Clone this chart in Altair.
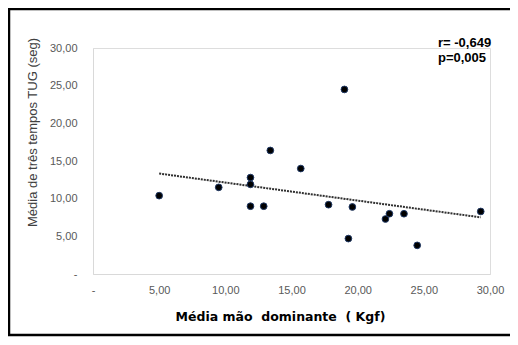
import altair as alt
import pandas as pd

# Data
forca = [5.0, 9.5, 11.9, 11.9, 11.9, 12.9, 13.4, 15.7, 17.8, 19.0, 19.6, 19.3, 22.1, 22.4, 23.5, 24.5, 29.3]
tug = [10.4, 11.5, 12.8, 11.9, 9.0, 9.0, 16.4, 14.0, 9.2, 24.5, 8.9, 4.7, 7.3, 8.0, 8.0, 3.8, 8.3]
stats_text = ["r= -0,649", "p=0,005"]
ticks = [0, 5, 10, 15, 20, 25, 30]

df = pd.DataFrame({"x": forca, "y": tug})

W, H = 397, 226
label_expr = "datum.value == 0 ? '-' : replace(format(datum.value, '.2f'), '.', ',')"

xenc = alt.X("x:Q", scale=alt.Scale(domain=[0, 30], nice=False),
             axis=alt.Axis(values=ticks, labelExpr=label_expr, grid=False, ticks=False,
                           labelOverlap=False, labelFlush=False,
                           domainColor="#d9d9d9", labelColor="#595959", labelFont="Liberation Sans",
                           labelFontSize=11, labelPadding=10,
                           title="Média mão\u00a0\u00a0dominante\u00a0\u00a0( Kgf)", titleFont="DejaVu Sans",
                           titleFontWeight="bold", titleFontSize=12.5, titleColor="#000000",
                           titleX=187, titleY=42, titleBaseline="middle"))
yenc = alt.Y("y:Q", scale=alt.Scale(domain=[0, 30], nice=False),
             axis=alt.Axis(values=ticks, labelExpr=label_expr, grid=False, ticks=False,
                           labelOverlap=False, labelFlush=False,
                           domainColor="#d9d9d9", labelColor="#595959", labelFont="Liberation Sans",
                           labelFontSize=11, labelPadding=16,
                           title="Média de três tempos TUG (seg)", titleFont="Liberation Sans",
                           titleFontWeight="normal", titleFontSize=13, titleColor="#404040",
                           titleX=-61, titleY=84, titleBaseline="middle", titleAngle=-90))

base = alt.Chart(df)

points = base.mark_point(filled=True, size=45, color="#000000", opacity=1,
                         stroke="#1f3864", strokeWidth=1).encode(x=xenc, y=yenc)

trend = base.transform_regression("x", "y").mark_line(
    color="#303030", strokeWidth=2, strokeDash=[2, 1]).encode(x=xenc, y=yenc)

txt = alt.Chart(pd.DataFrame({"t": [0]})).mark_text(
    align="left", baseline="middle", fontWeight="bold", fontSize=13,
    font="Liberation Sans", color="#000000", lineHeight=15
).encode(x=alt.value(345), y=alt.value(-5), text=alt.value(stats_text))

one = pd.DataFrame({"t": [0]})
rule_style = dict(color="#000000", strokeWidth=2.5, clip=False)
top_b = alt.Chart(one).mark_rule(**rule_style).encode(
    x=alt.value(-85), x2=alt.value(417), y=alt.value(-39))
left_b = alt.Chart(one).mark_rule(**rule_style).encode(
    x=alt.value(-84), y=alt.value(-40), y2=alt.value(288))
bottom_b = alt.Chart(one).mark_rule(**rule_style).encode(
    x=alt.value(-85), x2=alt.value(417), y=alt.value(287))

chart = alt.layer(trend, points, txt, top_b, left_b, bottom_b).properties(
    width=W, height=H,
    autosize=alt.AutoSizeParams(type="none"),
    padding={"left": 85, "top": 40, "right": 20, "bottom": 63},
).configure_view(stroke=None).configure(background="#ffffff")

chart.save("out.html", embed_options={"renderer": "svg", "actions": False})
